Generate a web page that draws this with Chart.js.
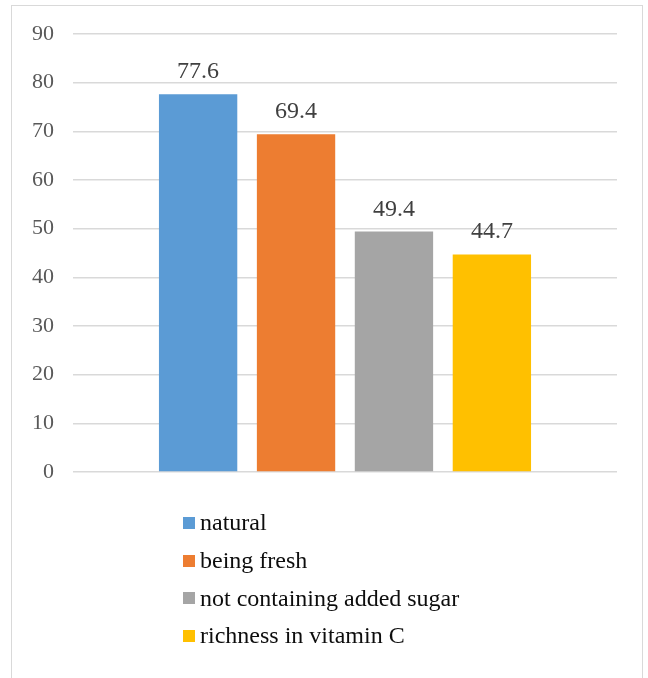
<!DOCTYPE html>
<html>
<head>
<meta charset="utf-8">
<script src="https://cdn.jsdelivr.net/npm/chart.js@4"></script>
<style>
  html, body { margin: 0; padding: 0; background: #fff; }
  #wrap { position: relative; width: 648px; height: 678px; overflow: hidden; }
  #frame { position: absolute; left: 11px; top: 5px; width: 632px; height: 700px; border: 1.5px solid #d9d9d9; box-sizing: border-box; }
  canvas { position: absolute; left: 0; top: 0; }
  #legend { position: absolute; left: 183px; top: 504px; font-family: "Liberation Serif", "Times New Roman", serif; font-size: 24px; color: #0d0d0d; }
  .item { height: 37.7px; display: flex; align-items: center; }
  .box { width: 12px; height: 12px; margin-right: 5px; }
</style>
</head>
<body>
<div id="wrap">
  <div id="frame"></div>
  <canvas id="c" width="648" height="678"></canvas>
  <div id="legend"></div>
</div>
<script>
const categories = [""];
const seriesNames = ["natural", "being fresh", "not containing added sugar", "richness in vitamin C"];
const seriesValues = [77.6, 69.4, 49.4, 44.7];
const seriesColors = ["#5B9BD5", "#ED7D31", "#A5A5A5", "#FFC000"];
const yTicks = [0, 10, 20, 30, 40, 50, 60, 70, 80, 90];

const datasets = seriesNames.map((n, i) => ({
  label: n,
  data: [seriesValues[i]],
  backgroundColor: seriesColors[i],
  categoryPercentage: 0.72,
  barPercentage: 0.8
}));

const valueLabels = {
  id: 'valueLabels',
  afterDatasetsDraw(chart) {
    const ctx = chart.ctx;
    ctx.save();
    ctx.font = '24px "Liberation Serif", "Times New Roman", serif';
    ctx.fillStyle = '#404040';
    ctx.textAlign = 'center';
    ctx.textBaseline = 'alphabetic';
    chart.data.datasets.forEach((ds, i) => {
      const meta = chart.getDatasetMeta(i);
      meta.data.forEach((bar, j) => {
        ctx.fillText(String(ds.data[j]), bar.x, bar.y - 16);
      });
    });
    ctx.restore();
  }
};

new Chart(document.getElementById('c'), {
  type: 'bar',
  data: { labels: categories, datasets },
  options: {
    responsive: false,
    animation: false,
    layout: { padding: { left: 0, top: 34, right: 31, bottom: 206 } },
    plugins: { legend: { display: false }, tooltip: { enabled: false } },
    scales: {
      x: { display: false },
      y: {
        min: 0, max: 90,
        afterFit(axis) { axis.width = 73; },
        afterBuildTicks(axis) { axis.ticks = yTicks.map(v => ({ value: v })); },
        border: { display: false },
        grid: { color: '#d9d9d9', lineWidth: 1.5, drawTicks: false },
        ticks: {
          padding: 19,
          color: '#595959',
          font: { family: '"Liberation Serif", "Times New Roman", serif', size: 22 }
        }
      }
    }
  },
  plugins: [valueLabels]
});

const leg = document.getElementById('legend');
seriesNames.forEach((n, i) => {
  const d = document.createElement('div');
  d.className = 'item';
  const b = document.createElement('span');
  b.className = 'box';
  b.style.background = seriesColors[i];
  const t = document.createElement('span');
  t.textContent = n;
  d.appendChild(b); d.appendChild(t);
  leg.appendChild(d);
});
</script>
</body>
</html>
